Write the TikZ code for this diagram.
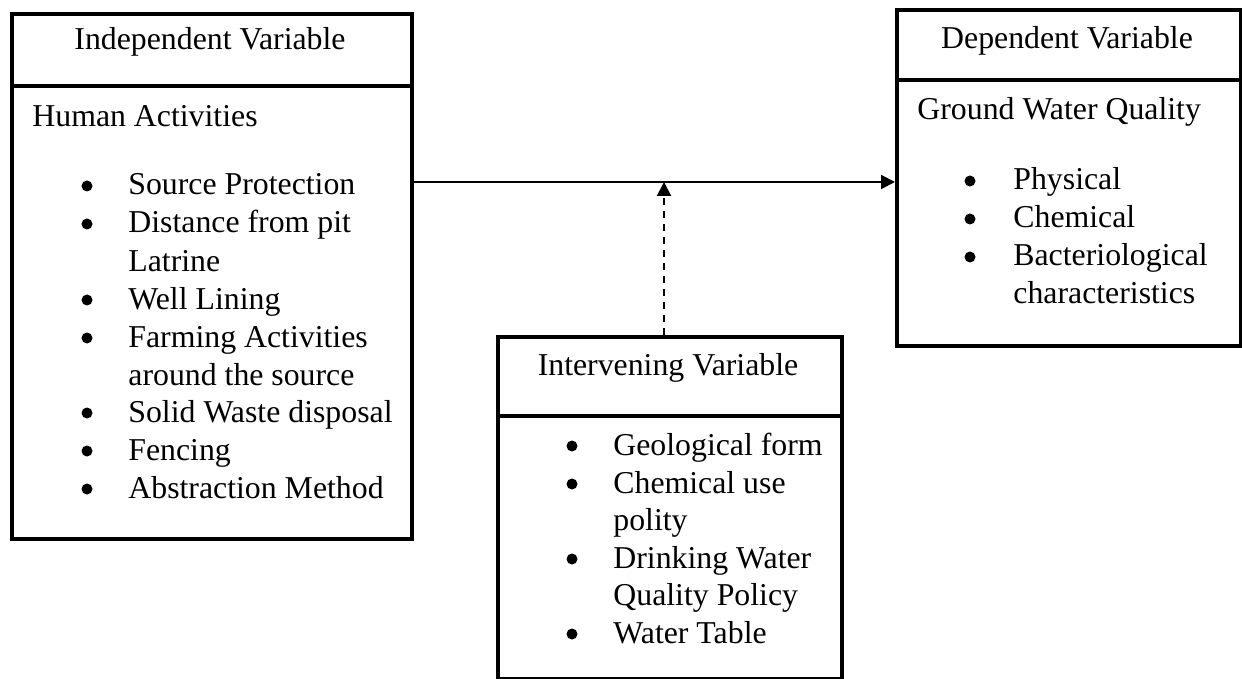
\documentclass[tikz,border=0pt]{standalone}
\usepackage{fontspec}
\setmainfont{Liberation Serif}
\usetikzlibrary{arrows.meta}
\begin{document}
\begin{tikzpicture}[x=0.5pt,y=-0.5pt,
  frame/.style={draw, line width=2pt, inner sep=0, anchor=north west},
  divider/.style={line width=2pt},
  hdr/.style={anchor=base, inner sep=0, font=\fontsize{15.9}{18.8}\selectfont},
  txt/.style={anchor=base west, inner sep=0, font=\fontsize{15.9}{18.8}\selectfont},
  bul/.style={circle, fill, inner sep=0, minimum size=5.5pt, yshift=4.5pt},
  link/.style={line width=1pt, -{Triangle[length=7pt,width=7pt]}},
  dlink/.style={line width=1pt, dash pattern=on 3.5pt off 3pt, -{Triangle[length=7pt,width=7pt]}}]
\useasboundingbox (0,0) rectangle (1242,679);
% boxes
\node[frame, minimum width=200pt, minimum height=262.5pt] (L) at (10,12) {};
\node[frame, minimum width=172pt, minimum height=168pt] (R) at (895,8) {};
\node[frame, minimum width=172pt, minimum height=171pt] (I) at (496,335) {};
\draw[divider] (10,86) -- (410,86);
\draw[divider] (895,80) -- (1239,80);
\draw[divider] (496,416) -- (840,416);
% left box
\node[hdr] (Lh) at (210,50) {Independent Variable};
\node[txt] (Lt) at (32,127) {Human Activities};
\node[bul] (Lb1) at (87,195) {}; \node[txt] (L1) at (128,195) {Source Protection};
\node[bul] (Lb2) at (87,233) {}; \node[txt] (L2) at (128,233) {Distance from pit};
\node[txt] (L2b) at (128,271) {Latrine};
\node[bul] (Lb3) at (87,309) {}; \node[txt] (L3) at (128,309) {Well Lining};
\node[bul] (Lb4) at (87,347) {}; \node[txt] (L4) at (128,347) {Farming Activities};
\node[txt] (L4b) at (128,385) {around the source};
\node[bul] (Lb5) at (87,422) {}; \node[txt] (L5) at (128,422) {Solid Waste disposal};
\node[bul] (Lb6) at (87,460) {}; \node[txt] (L6) at (128,460) {Fencing};
\node[bul] (Lb7) at (87,498) {}; \node[txt] (L7) at (128,498) {Abstraction Method};
% right box
\node[hdr] (Rh) at (1067,49) {Dependent Variable};
\node[txt] (Rt) at (917,120) {Ground Water Quality};
\node[bul] (Rb1) at (970,190) {}; \node[txt] (R1) at (1013,190) {Physical};
\node[bul] (Rb2) at (970,228) {}; \node[txt] (R2) at (1013,228) {Chemical};
\node[bul] (Rb3) at (970,266) {}; \node[txt] (R3) at (1013,266) {Bacteriological};
\node[txt] (R3b) at (1013,304) {characteristics};
% intervening box
\node[hdr] (Ih) at (668,375) {Intervening Variable};
\node[bul] (Ib1) at (572,455) {}; \node[txt] (I1) at (613,455) {Geological form};
\node[bul] (Ib2) at (572,493) {}; \node[txt] (I2) at (613,493) {Chemical use};
\node[txt] (I2b) at (613,530) {polity};
\node[bul] (Ib3) at (572,568) {}; \node[txt] (I3) at (613,568) {Drinking Water};
\node[txt] (I3b) at (613,605) {Quality Policy};
\node[bul] (Ib4) at (572,643) {}; \node[txt] (I4) at (613,643) {Water Table};
% connectors
\coordinate (m) at (664,182);
\draw[link] (m -| L.east) -- (m -| R.west);
\draw[dlink] (m |- I.north) -- (m);
\end{tikzpicture}
\end{document}
